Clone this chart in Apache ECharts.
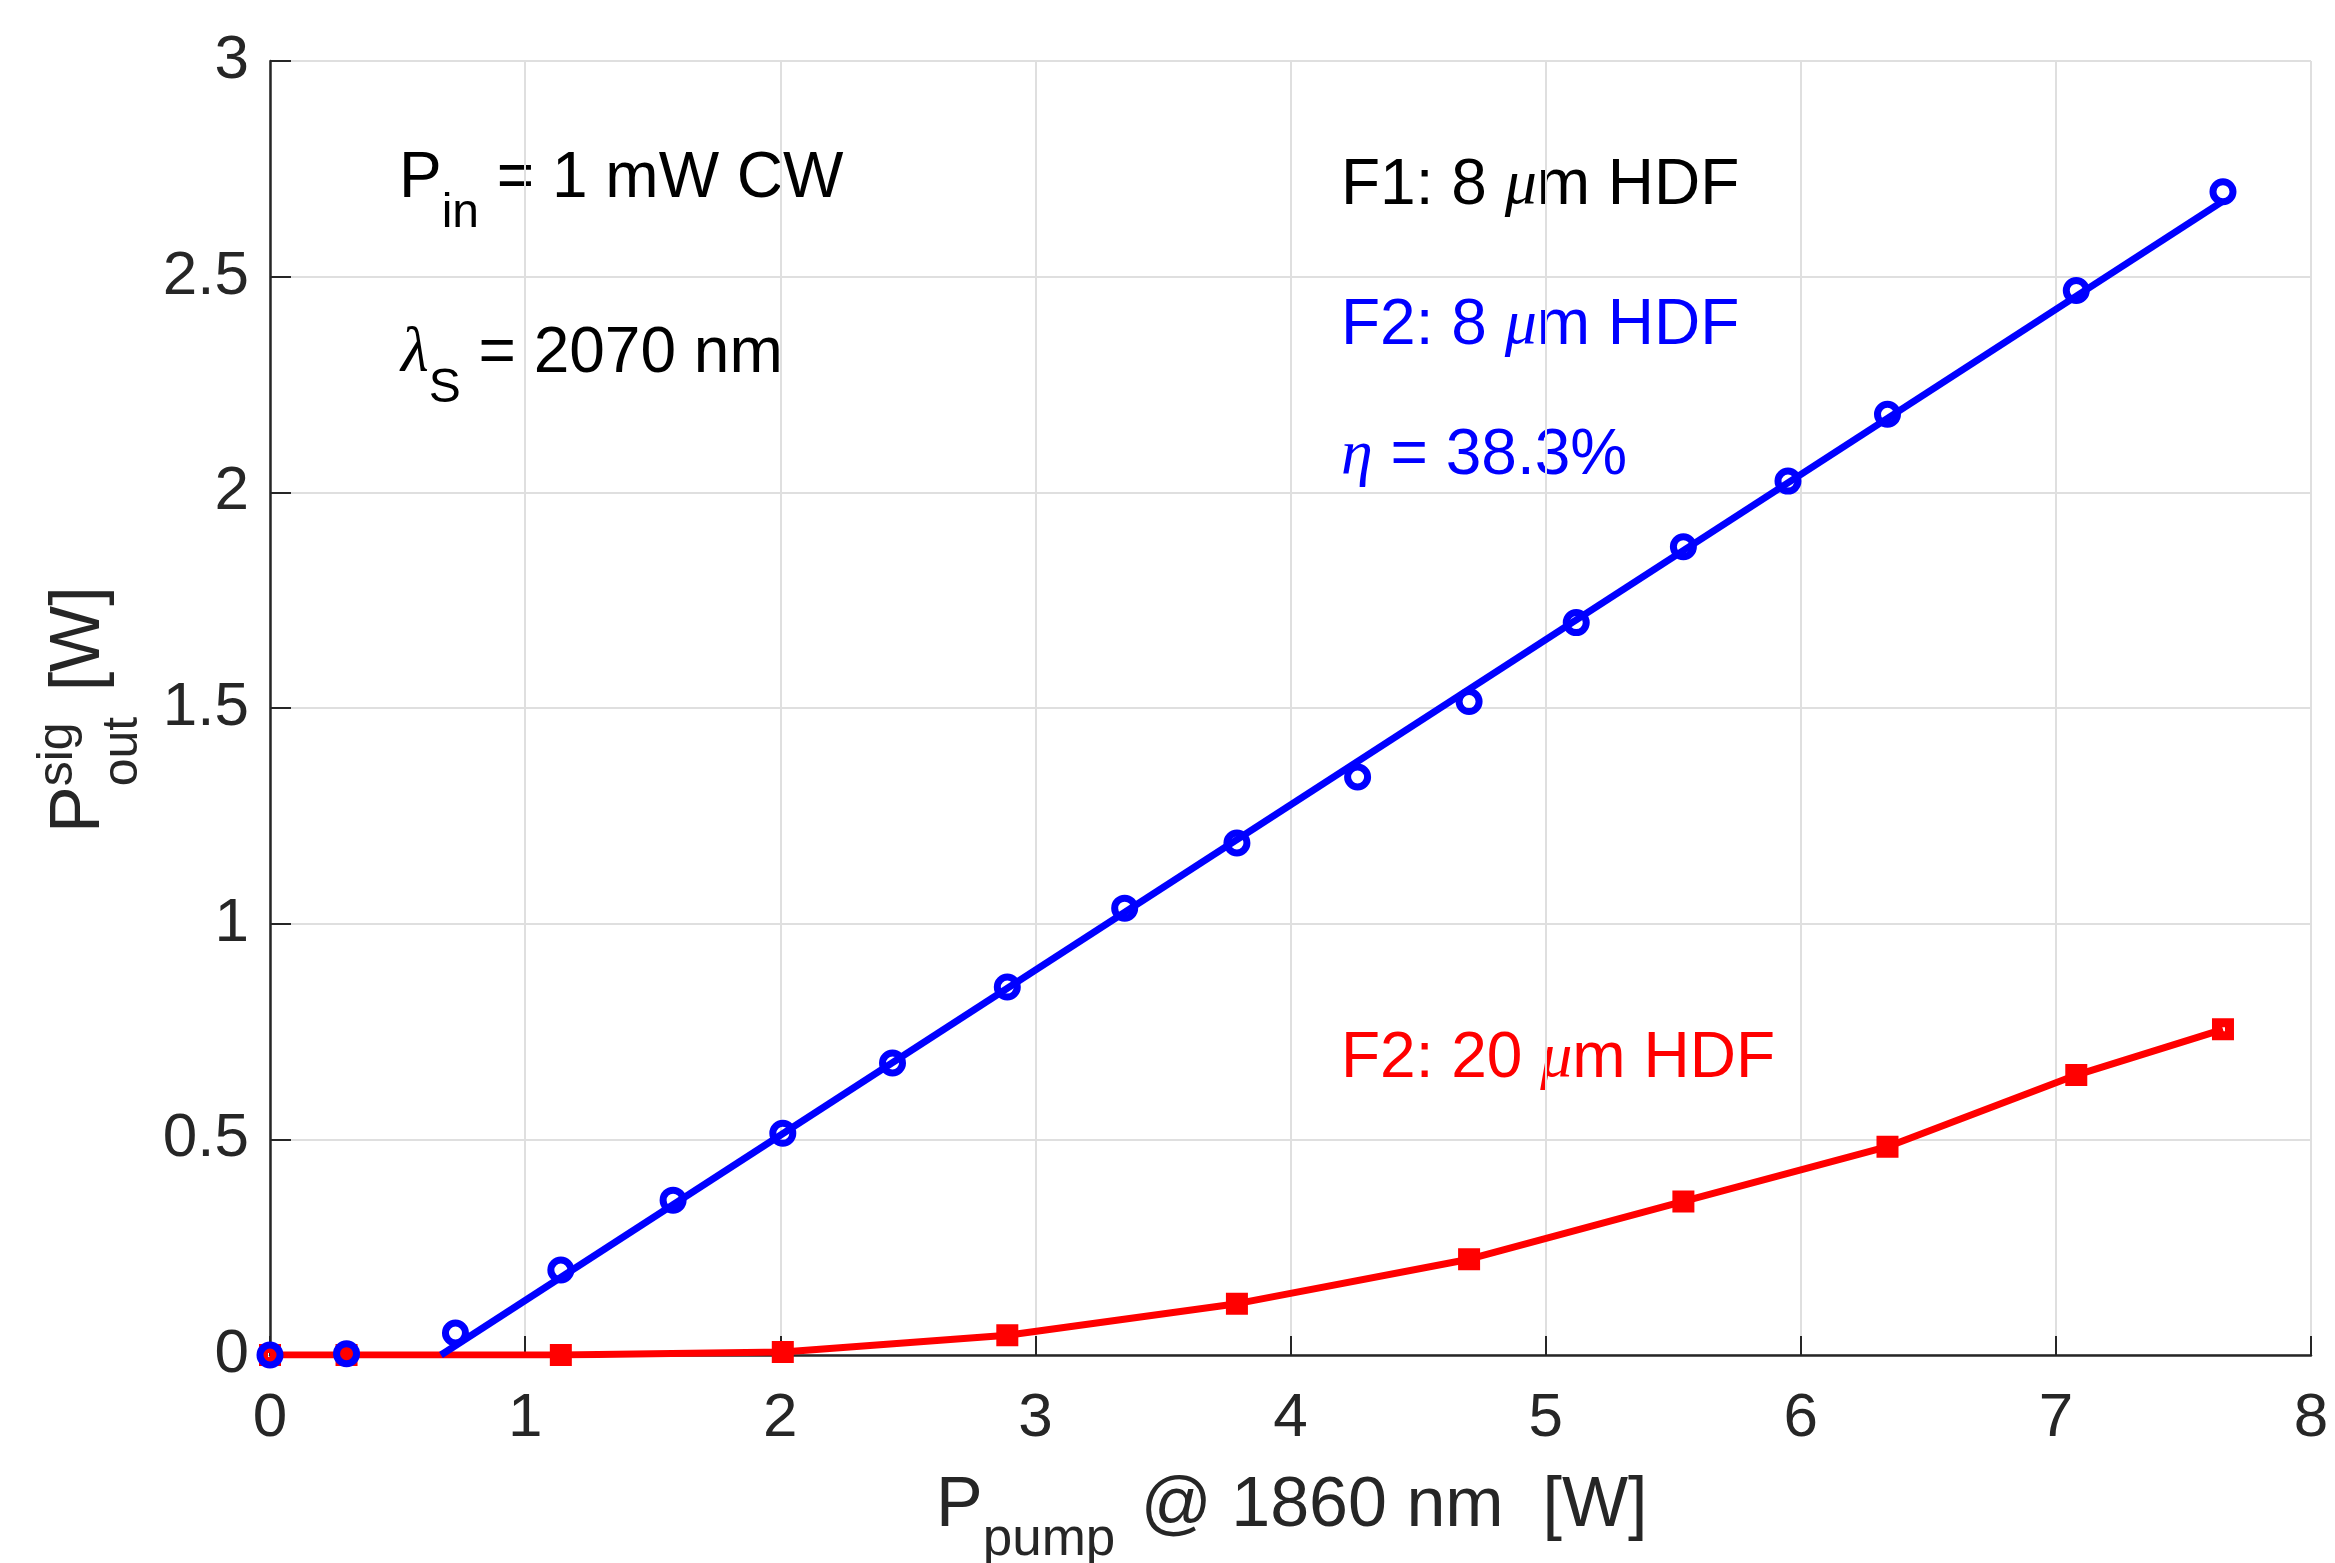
<!DOCTYPE html>
<html>
<head>
<meta charset="utf-8">
<script src="https://cdn.jsdelivr.net/npm/echarts@6/dist/echarts.min.js"></script>
<style>
  html, body { margin: 0; padding: 0; background: #ffffff; }
  #chart { width: 2335px; height: 1563px; }
</style>
</head>
<body>
<div id="chart"></div>
<script>
// Pump power at 1860 nm (W) and output signal power (W)
const pumpF2_8um = [0, 0.30, 0.727, 1.14, 1.58, 2.01, 2.44, 2.89, 3.35, 3.79, 4.263, 4.70, 5.12, 5.54, 5.95, 6.34, 7.08, 7.655];
const signalF2_8um = [0, 0.003, 0.051, 0.197, 0.359, 0.514, 0.677, 0.853, 1.036, 1.187, 1.340, 1.515, 1.698, 1.874, 2.026, 2.181, 2.468, 2.697];

const pumpF2_20um = [0, 0.30, 1.14, 2.01, 2.89, 3.79, 4.70, 5.54, 6.34, 7.08, 7.655];
const signalF2_20um = [0, 0, 0, 0.007, 0.046, 0.119, 0.222, 0.356, 0.483, 0.649, 0.755];

// Linear slope-efficiency fit for the 8 um fibre
const slopeEfficiency = 38.3;   // percent
const fitThreshold = 0.67;      // W, where the fit crosses zero
const fitEnd = 7.655;           // W, last measured pump power

// Axis ticks
const xTicks = [0, 1, 2, 3, 4, 5, 6, 7, 8];
const yTicks = [0, 0.5, 1, 1.5, 2, 2.5, 3];

const BLUE = '#0000ff';
const RED = '#ff0000';
const INK = '#262626';
const SANS = '"Liberation Sans", Arial, Helvetica, sans-serif';
const SERIF = '"Liberation Serif", "DejaVu Serif", serif';

const fitLine = [
  [fitThreshold, 0],
  [fitEnd, slopeEfficiency / 100 * (fitEnd - fitThreshold)]
];

// Text with sub/superscripts, laid out piece by piece on a shared baseline
const measureCtx = document.createElement('canvas').getContext('2d');
function fontOf(p) {
  return (p.italic ? 'italic ' : '') + p.size + 'px ' + (p.serif ? SERIF : SANS);
}
function widthOf(p) {
  measureCtx.font = fontOf(p);
  return measureCtx.measureText(p.t).width;
}
function textRun(pieces, color, x, y, rotation) {
  const children = [];
  let cx = 0;
  pieces.forEach(function (p) {
    const parts = p.stack || [p];
    let w = 0;
    parts.forEach(function (q) {
      children.push({
        type: 'text',
        x: cx,
        y: (q.dy || 0) - 0.33 * q.size,
        silent: true,
        style: {
          text: q.t,
          font: fontOf(q),
          fill: color,
          textAlign: 'left', align: 'left',
          textVerticalAlign: 'middle', verticalAlign: 'middle'
        }
      });
      w = Math.max(w, widthOf(q));
    });
    cx += w + (p.gap || 0);
  });
  return { type: 'group', x: x, y: y, rotation: rotation || 0, children: children };
}

const M = 64, S = 48;
const annotations = [
  textRun([{ t: 'P', size: M }, { t: 'in', size: S, dy: 30 }, { t: ' = 1 mW CW', size: M }], '#000000', 399, 200),
  textRun([{ t: 'λ', size: M, italic: true, serif: true }, { t: 'S', size: S, dy: 30 }, { t: ' = 2070 nm', size: M }], '#000000', 401, 375),
  textRun([{ t: 'F1: 8 ', size: M }, { t: 'μ', size: M, italic: true, serif: true }, { t: 'm HDF', size: M }], '#000000', 1341, 207),
  textRun([{ t: 'F2: 8 ', size: M }, { t: 'μ', size: M, italic: true, serif: true }, { t: 'm HDF', size: M }], BLUE, 1341, 347),
  textRun([{ t: 'η', size: M, italic: true, serif: true }, { t: ' = ' + slopeEfficiency.toFixed(1) + '%', size: M }], BLUE, 1341, 477),
  textRun([{ t: 'F2: 20 ', size: M }, { t: 'μ', size: M, italic: true, serif: true }, { t: 'm HDF', size: M }], RED, 1341, 1080),
  // axis titles
  textRun([{ t: 'P', size: 70 }, { t: 'pump', size: 53, dy: 28, gap: 6 }, { t: ' @ 1860 nm  [W]', size: 70 }], INK, 936, 1530),
  textRun([{ t: 'P', size: 70 },
           { stack: [{ t: 'sig', size: 50, dy: -28 }, { t: 'out', size: 50, dy: 37 }], gap: 6 },
           { t: ' [W]', size: 70 }], INK, 103, 833, Math.PI / 2)
];

const chart = echarts.init(document.getElementById('chart'), null, { renderer: 'canvas' });
chart.setOption({
  animation: false,
  backgroundColor: '#ffffff',
  grid: { left: 270, right: 24, top: 61, bottom: 208, containLabel: false, outerBoundsMode: 'none' },
  xAxis: {
    type: 'value',
    min: xTicks[0], max: xTicks[xTicks.length - 1], interval: xTicks[1] - xTicks[0],
    axisLine: { show: true, onZero: false, lineStyle: { color: INK, width: 2.5 } },
    axisTick: { show: true, inside: true, length: 19, lineStyle: { color: INK, width: 2 } },
    axisLabel: { color: INK, fontSize: 62, fontFamily: SANS, margin: 33 },
    splitLine: { show: true, lineStyle: { color: '#dfdfdf', width: 2 } }
  },
  yAxis: {
    type: 'value',
    min: yTicks[0], max: yTicks[yTicks.length - 1], interval: yTicks[1] - yTicks[0],
    axisLine: { show: true, onZero: false, lineStyle: { color: INK, width: 2.5 } },
    axisTick: { show: true, inside: true, length: 21, lineStyle: { color: INK, width: 2 } },
    axisLabel: { color: INK, fontSize: 62, fontFamily: SANS, margin: 21 },
    splitLine: { show: true, lineStyle: { color: '#dfdfdf', width: 2 } }
  },
  series: [
    {
      name: 'F2: 20 um HDF',
      type: 'line',
      data: pumpF2_20um.map(function (x, i) { return [x, signalF2_20um[i]]; }),
      symbol: 'rect',
      symbolSize: 13,
      showSymbol: true,
      itemStyle: { color: 'rgba(0,0,0,0)', borderColor: RED, borderWidth: 9, opacity: 1 },
      lineStyle: { color: RED, width: 7, opacity: 1 },
      emphasis: { disabled: true },
      z: 2
    },
    {
      name: 'fit',
      type: 'line',
      data: fitLine,
      symbol: 'none',
      lineStyle: { color: BLUE, width: 7, opacity: 1 },
      emphasis: { disabled: true },
      z: 3
    },
    {
      name: 'F2: 8 um HDF',
      type: 'scatter',
      data: pumpF2_8um.map(function (x, i) { return [x, signalF2_8um[i]]; }),
      symbol: 'circle',
      symbolSize: 20,
      itemStyle: { color: 'rgba(0,0,0,0)', borderColor: BLUE, borderWidth: 7, opacity: 1 },
      emphasis: { disabled: true },
      z: 4
    }
  ],
  graphic: annotations
});
</script>
</body>
</html>
